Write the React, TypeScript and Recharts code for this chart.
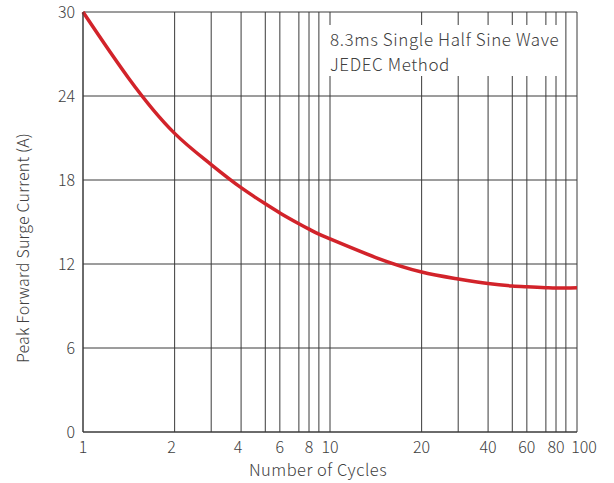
import { LineChart, Line, XAxis, YAxis, CartesianGrid } from 'recharts';

// the chart paper is not a true log scale: position of 1..10 inside one decade
const decadeScale = [0, 0.371, 0.519, 0.64, 0.738, 0.797, 0.874, 0.915, 0.955, 1];

const cycles = [1, 2, 3, 4, 5, 6, 7, 8, 9, 10, 20, 30, 40, 50, 60, 70, 80, 90, 100];
const surgeCurrent = [
  30, 21.33, 19.1, 17.45, 16.3, 15.65, 14.88, 14.49, 14.13, 13.79,
  11.43, 10.93, 10.6, 10.43, 10.37, 10.31, 10.29, 10.29, 10.31,
];
const labelledCycles = [1, 2, 4, 6, 8, 10, 20, 40, 60, 80, 100];
const yTicks = [0, 6, 12, 18, 24, 30];

const FONT = '"Noto Sans CJK SC", "Noto Sans", sans-serif';
const WEIGHT = 300;
const TEXT = '#404040';
const RED = '#d2232a';
const GRID = '#3a3a3a';

// cycles -> position on the paper (in decades)
const toPaper = (c: number) => {
  if (c >= 100) return 2;
  const decade = c < 10 ? 0 : 1;
  const k = Math.round(c / Math.pow(10, decade));
  return decade + decadeScale[k - 1];
};

const xTicks = cycles.map(toPaper);
const data = cycles.map((c, i) => ({ x: toPaper(c), current: surgeCurrent[i] }));

const cycleAt = (v: number) => {
  const idx = xTicks.findIndex((t) => Math.abs(t - v) < 1e-6);
  return idx < 0 ? null : cycles[idx];
};

const XTick = ({ x, y, payload }: any) => {
  const c = cycleAt(payload.value);
  if (c == null || !labelledCycles.includes(c)) return null;
  // the last label sits a little right of its line, as on the original sheet
  const dx = c === 100 ? 7 : c === 2 ? -3 : c === 4 ? -3 : 0;
  return (
    <text
      x={x + dx}
      y={y + 13}
      textAnchor="middle"
      fill={TEXT}
      fontSize={16}
      fontWeight={WEIGHT}
      fontFamily={FONT}
    >
      {c}
    </text>
  );
};

const YTitle = () => (
  <text
    x={22}
    y={248}
    transform="rotate(-90 22 248)"
    textAnchor="middle"
    dominantBaseline="central"
    fill={TEXT}
    fontSize={16}
    fontWeight={WEIGHT}
    fontFamily={FONT}
    letterSpacing={0.2}
  >
    Peak Forward Surge Current (A)
  </text>
);

const XTitle = () => (
  <text
    x={318}
    y={476}
    textAnchor="middle"
    fill={TEXT}
    fontSize={16.5}
    fontWeight={WEIGHT}
    fontFamily={FONT}
    letterSpacing={0.5}
  >
    Number of Cycles
  </text>
);

const noteStyle = {
  position: 'absolute' as const,
  left: 330,
  color: TEXT,
  fontSize: 17,
  fontWeight: WEIGHT,
  letterSpacing: 0.6,
  lineHeight: '25px',
  whiteSpace: 'nowrap' as const,
};

export default function App() {
  return (
    <div style={{ position: 'absolute', left: 0, top: 0, width: 614, height: 483, background: '#fff', fontFamily: FONT }}>
      <LineChart
        width={614}
        height={483}
        data={data}
        margin={{ top: 12, right: 37, left: 0, bottom: 0 }}
      >
        <CartesianGrid stroke={GRID} strokeWidth={1} />
        <XAxis
          dataKey="x"
          type="number"
          domain={[0, 2]}
          ticks={xTicks}
          interval={0}
          tick={<XTick />}
          tickLine={false}
          axisLine={{ stroke: GRID }}
          height={51}
          label={<XTitle />}
        />
        <YAxis
          type="number"
          domain={[0, 30]}
          ticks={yTicks}
          interval={0}
          tickLine={false}
          axisLine={{ stroke: GRID }}
          width={83}
          tick={{ fill: TEXT, fontSize: 16, fontWeight: WEIGHT, fontFamily: FONT }}
          tickMargin={2}
          label={<YTitle />}
        />
        <Line
          type="monotone"
          dataKey="current"
          stroke={RED}
          strokeWidth={3.5}
          dot={false}
          isAnimationActive={false}
        />
      </LineChart>
      <div style={{ position: 'absolute', left: 327, top: 25, width: 235, height: 51, background: '#fff' }} />
      <div style={{ ...noteStyle, top: 26 }}>8.3ms Single Half Sine Wave</div>
      <div style={{ ...noteStyle, top: 51 }}>JEDEC Method</div>
    </div>
  );
}
